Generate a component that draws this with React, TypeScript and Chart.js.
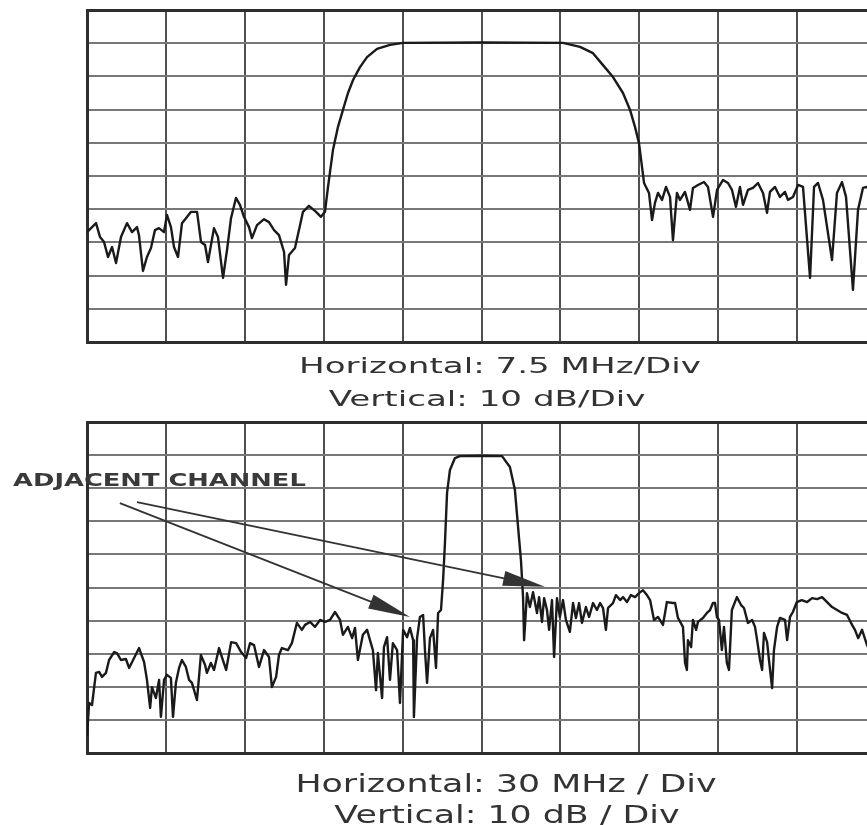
import React, { useEffect, useRef } from "react";
import { Chart, registerables } from "chart.js";

Chart.register(...registerables);

// ---------- Top panel: 7.5 MHz/div, 10 dB/div (span 0..75 MHz, 0..-100 dB) ----------
const topFreq = [
  0.0, 0.86, 1.24, 1.62, 2.0, 2.38, 2.76, 3.23, 3.8, 4.28, 4.75, 4.94, 5.32, 5.7, 6.08, 6.46, 6.84, 7.32, 7.6, 7.98,
  8.27, 8.65, 9.03, 9.41, 9.89, 10.46, 10.84, 11.22, 11.5, 12.07, 12.45, 12.93, 13.31, 13.69, 14.16, 14.54, 14.92,
  15.4, 15.68, 16.16, 16.83, 17.3, 17.78, 18.25, 18.73, 18.92, 19.2, 19.77, 20.25, 20.53, 21.1, 21.77, 22.24, 22.62,
  22.91, 23.38, 23.86, 24.33, 24.81, 25.29, 25.95, 26.62, 27.57, 28.8, 30.04, 37.5, 45.25, 46.86, 48.1, 49.05, 50.0,
  50.95, 51.62, 52.09, 52.47, 52.76, 52.95, 53.42, 53.71, 53.99, 54.28, 54.66, 55.04, 55.42, 55.7, 56.08, 56.37,
  56.84, 57.32, 57.6, 58.08, 58.65, 59.03, 59.51, 59.89, 60.46, 60.93, 61.31, 61.69, 62.07, 62.36, 62.83, 63.31,
  63.78, 64.26, 64.64, 64.92, 65.4, 65.87, 66.35, 66.63, 67.11, 67.59, 68.06, 68.73, 69.11, 69.49, 69.96, 70.82,
  71.29, 71.77, 72.15, 72.81, 73.29, 73.76, 74.14, 75.0,
];
const topLevel = [
  -66.9, -64.2, -68.4, -69.9, -74.4, -71.4, -76.2, -68.4, -64.2, -66.9, -65.4, -67.8, -78.6, -74.4, -71.7, -66.3,
  -65.7, -66.9, -61.7, -65.4, -71.4, -74.4, -64.2, -62.7, -60.8, -60.8, -69.9, -70.8, -75.9, -65.7, -68.4, -80.7,
  -72.3, -62.7, -56.6, -58.7, -62.3, -65.4, -68.7, -64.8, -63.0, -63.9, -66.3, -67.8, -72.9, -82.8, -73.8, -71.7,
  -64.8, -60.8, -59.0, -60.8, -62.3, -60.8, -53.3, -42.2, -35.2, -30.1, -25.0, -21.1, -17.2, -14.2, -11.7, -10.5,
  -9.9, -9.8, -9.9, -11.1, -13.0, -16.6, -20.2, -25.0, -30.1, -35.2, -40.1, -47.3, -52.1, -55.1, -63.3, -58.1,
  -55.1, -57.2, -53.3, -56.3, -69.3, -55.1, -57.2, -54.8, -60.2, -53.6, -52.7, -51.8, -53.3, -62.3, -54.2, -51.2,
  -52.1, -54.2, -59.3, -53.3, -58.7, -54.2, -53.6, -52.1, -55.1, -61.1, -54.8, -53.3, -56.3, -54.8, -57.2, -56.3,
  -52.7, -53.3, -80.7, -53.3, -52.1, -57.2, -75.3, -55.1, -51.8, -56.3, -84.3, -60.2, -53.6, -53.3, -57.0,
];

// ---------- Bottom panel: 30 MHz/div, 10 dB/div (span 0..300 MHz, 0..-100 dB) ----------
const botFreq = [
  0.0, 0.8, 1.9, 3.4, 4.6, 5.7, 7.2, 8.4, 10.3, 11.4, 12.9, 14.8, 16.0, 17.9, 19.8, 21.7, 22.8, 24.0, 24.7, 26.2,
  27.4, 28.1, 29.3, 30.4, 31.9, 32.7, 33.8, 35.0, 36.1, 37.6, 38.8, 39.9, 41.8, 42.6, 43.3, 44.9, 45.6, 47.1, 48.3,
  50.2, 51.3, 52.9, 54.8, 56.7, 58.6, 60.5, 62.0, 63.5, 65.4, 67.3, 69.2, 70.3, 71.9, 73.0, 74.1, 76.4, 77.9, 79.8,
  81.7, 82.9, 84.8, 86.7, 88.6, 90.5, 92.4, 94.3, 96.2, 97.3, 99.2, 100.8, 101.9, 103.0, 104.9, 106.5, 107.6, 108.7,
  109.9, 110.6, 112.2, 112.9, 114.1, 115.2, 116.3, 117.9, 119.0, 120.2, 121.7, 122.8, 124.0, 124.3, 125.5, 126.6,
  127.8, 128.5, 129.3, 130.4, 131.6, 132.7, 133.5, 134.6, 135.4, 136.1, 136.9, 138.0, 139.9, 141.8, 150.0, 157.8,
  160.8, 162.7, 163.9, 165.0, 165.8, 166.2, 167.3, 168.4, 169.6, 171.1, 171.9, 173.0, 173.8, 174.9, 175.7, 176.8,
  177.6, 178.7, 179.8, 181.0, 182.1, 183.6, 184.8, 185.9, 187.1, 188.2, 189.7, 190.9, 192.4, 193.9, 195.1, 196.2,
  197.3, 198.1, 200.0, 201.1, 202.7, 203.8, 205.3, 206.8, 208.4, 209.9, 211.4, 212.9, 214.1, 215.6, 217.1, 219.0,
  220.5, 222.8, 223.6, 224.7, 226.6, 227.4, 228.1, 228.5, 229.7, 230.4, 231.6, 232.3, 234.2, 235.7, 236.9, 238.0,
  238.8, 239.5, 240.3, 241.4, 242.2, 243.3, 244.1, 245.2, 247.1, 248.7, 249.8, 251.3, 252.9, 254.0, 254.8, 255.9,
  256.7, 257.4, 258.6, 259.3, 260.5, 261.2, 262.4, 263.5, 265.4, 266.2, 267.3, 268.4, 269.9, 271.8, 273.8, 275.7,
  277.6, 279.5, 281.4, 283.3, 285.2, 287.1, 289.0, 290.9, 292.0, 293.2, 294.7, 296.6, 300.0,
];
const botLevel = [
  -95.0, -84.9, -85.5, -75.8, -75.5, -77.0, -75.8, -71.9, -69.5, -69.8, -71.9, -71.6, -74.3, -71.3, -68.3, -72.5,
  -77.9, -86.4, -80.1, -83.4, -77.9, -89.1, -77.9, -76.4, -77.3, -89.1, -78.8, -74.3, -71.9, -74.0, -77.9, -78.8,
  -84.0, -77.0, -70.4, -73.4, -75.8, -72.8, -74.9, -68.3, -71.0, -74.9, -66.5, -66.8, -69.5, -71.3, -66.8, -67.4,
  -74.0, -68.9, -71.0, -80.1, -77.0, -70.4, -68.3, -68.9, -66.8, -60.7, -62.8, -61.3, -60.4, -61.9, -59.8, -60.4,
  -59.8, -57.4, -59.8, -64.3, -61.9, -65.3, -62.2, -71.9, -64.3, -62.8, -65.9, -68.9, -81.0, -69.8, -83.4, -68.0,
  -65.0, -77.9, -66.8, -68.9, -84.9, -62.8, -65.0, -62.2, -65.9, -89.1, -65.3, -58.9, -58.3, -68.9, -78.8, -65.3,
  -62.8, -74.3, -57.7, -56.8, -47.7, -36.6, -21.4, -14.5, -10.9, -10.3, -10.2, -10.3, -13.6, -20.5, -31.7, -41.7,
  -52.9, -65.9, -51.7, -55.9, -51.4, -57.7, -52.9, -60.4, -53.2, -56.8, -62.8, -53.8, -71.0, -53.2, -58.9, -53.8,
  -59.8, -63.4, -54.7, -59.2, -54.7, -60.7, -55.9, -58.9, -54.7, -56.8, -54.7, -56.2, -62.8, -56.2, -54.7, -52.3,
  -53.8, -52.9, -54.4, -52.3, -52.9, -51.7, -50.8, -52.3, -53.8, -59.8, -58.9, -61.3, -54.4, -54.7, -54.7, -59.2,
  -61.9, -72.8, -74.9, -65.9, -68.0, -59.8, -62.8, -60.4, -59.2, -57.7, -56.8, -54.7, -54.7, -58.9, -59.8, -68.9,
  -61.9, -72.8, -74.9, -56.8, -52.9, -55.3, -56.2, -60.7, -59.8, -61.9, -65.9, -71.9, -74.9, -63.7, -66.5, -71.9,
  -80.4, -68.9, -61.9, -59.2, -59.8, -65.9, -58.9, -57.4, -54.4, -53.8, -54.4, -53.2, -53.5, -52.9, -54.4, -55.9,
  -56.8, -57.7, -58.3, -61.3, -62.8, -65.3, -62.8, -67.4, -73.4,
];

// ---------- Texts ----------
const topCaptions = ["Horizontal: 7.5 MHz/Div", "Vertical: 10 dB/Div"];
const botCaptions = ["Horizontal: 30 MHz / Div", "Vertical: 10 dB / Div"];
const annotationLabel = "ADJACENT CHANNEL";

// annotation geometry in data units of the bottom panel (MHz, dB)
const labelAt = [-28.1, -17.8];
const arrowFromFreq = [12.5, 19.0];
const arrowFromLevel = [-24.5, -24.2];
const arrowToFreq = [122.8, 174.1];
const arrowToLevel = [-58.9, -49.8];

const FRAME = "#2e2e2e";
const VGRID = "#4f4f4f";
const HGRID = "#777777";
const TRACE = "#1a1a1a";

function stretchedText(
  ctx: CanvasRenderingContext2D,
  text: string,
  x: number,
  y: number,
  font: string,
  sx: number,
  align: CanvasTextAlign,
  baseline: CanvasTextBaseline,
  color: string
) {
  ctx.save();
  ctx.font = font;
  ctx.fillStyle = color;
  ctx.textAlign = align;
  ctx.textBaseline = baseline;
  ctx.translate(x, y);
  ctx.scale(sx, 1);
  ctx.fillText(text, 0, 0);
  ctx.restore();
}

const captionPlugin = {
  id: "captions",
  afterDraw(chart: any, _args: any, opts: any) {
    if (!opts || !opts.lines) return;
    const ctx = chart.ctx as CanvasRenderingContext2D;
    opts.lines.forEach((t: string, i: number) => {
      stretchedText(
        ctx,
        t,
        opts.centers[i],
        opts.baselines[i],
        `${opts.size}px "DejaVu Sans"`,
        opts.stretch,
        "center",
        "alphabetic",
        "#333333"
      );
    });
  },
};

const arrowPlugin = {
  id: "arrows",
  afterDatasetsDraw(chart: any, _args: any, opts: any) {
    if (!opts || !opts.enabled) return;
    const ctx = chart.ctx as CanvasRenderingContext2D;
    const xs = chart.scales.x;
    const ys = chart.scales.y;
    ctx.save();
    ctx.strokeStyle = "#333333";
    ctx.fillStyle = "#333333";
    ctx.lineWidth = 1.8;
    for (let i = 0; i < arrowFromFreq.length; i++) {
      const x0 = xs.getPixelForValue(arrowFromFreq[i]);
      const y0 = ys.getPixelForValue(arrowFromLevel[i]);
      const x1 = xs.getPixelForValue(arrowToFreq[i]);
      const y1 = ys.getPixelForValue(arrowToLevel[i]);
      const a = Math.atan2(y1 - y0, x1 - x0);
      const L = 42;
      const w = 7.5;
      const bx = x1 - L * Math.cos(a);
      const by = y1 - L * Math.sin(a);
      ctx.beginPath();
      ctx.moveTo(x0, y0);
      ctx.lineTo(bx + 4 * Math.cos(a), by + 4 * Math.sin(a));
      ctx.stroke();
      ctx.beginPath();
      ctx.moveTo(x1, y1);
      ctx.lineTo(bx + w * Math.sin(a), by - w * Math.cos(a));
      ctx.lineTo(bx - w * Math.sin(a), by + w * Math.cos(a));
      ctx.closePath();
      ctx.fill();
    }
    ctx.restore();
    stretchedText(
      ctx,
      annotationLabel,
      xs.getPixelForValue(labelAt[0]),
      ys.getPixelForValue(labelAt[1]),
      'bold 18px "DejaVu Sans"',
      1.43,
      "left",
      "middle",
      "#3a3a3a"
    );
  },
};

function makeConfig(
  freq: number[],
  level: number[],
  xMax: number,
  xStep: number,
  padding: any,
  captions: any,
  arrows: boolean
): any {
  const edge = (v: number, a: number, b: number) => Math.abs(v - a) < 1e-6 || Math.abs(v - b) < 1e-6;
  return {
    type: "line",
    data: {
      datasets: [
        {
          data: freq.map((f, i) => ({ x: f, y: level[i] })),
          borderColor: TRACE,
          borderWidth: 2.4,
          pointRadius: 0,
          tension: 0,
          borderJoinStyle: "round",
          fill: false,
        },
      ],
    },
    options: {
      responsive: false,
      animation: false,
      events: [],
      layout: { padding },
      plugins: {
        legend: { display: false },
        tooltip: { enabled: false },
        title: { display: false },
        captions,
        arrows: { enabled: arrows },
      },
      scales: {
        x: {
          type: "linear",
          min: 0,
          max: xMax,
          ticks: { display: false, stepSize: xStep },
          grid: {
            drawTicks: false,
            color: (c: any) => (c.tick && edge(c.tick.value, 0, -1) ? FRAME : VGRID),
            lineWidth: (c: any) => (c.tick && edge(c.tick.value, 0, -1) ? 3 : 2),
          },
          border: { display: true, color: FRAME, width: 3 },
        },
        y: {
          type: "linear",
          min: -100,
          max: 0,
          ticks: { display: false, stepSize: 10 },
          grid: {
            drawTicks: false,
            color: (c: any) => (c.tick && edge(c.tick.value, 0, -100) ? FRAME : HGRID),
            lineWidth: (c: any) => (c.tick && edge(c.tick.value, 0, -100) ? 3 : 2),
          },
          border: { display: true, color: FRAME, width: 3 },
        },
      },
    },
    plugins: [captionPlugin, arrowPlugin],
  };
}

export default function App() {
  const topRef = useRef<HTMLCanvasElement | null>(null);
  const botRef = useRef<HTMLCanvasElement | null>(null);

  useEffect(() => {
    const charts: Chart[] = [];
    if (topRef.current) {
      charts.push(
        new Chart(
          topRef.current,
          makeConfig(
            topFreq,
            topLevel,
            75,
            7.5,
            { left: 87, top: 10, right: 14, bottom: 68 },
            { lines: topCaptions, centers: [500, 487], baselines: [373, 406], size: 22, stretch: 1.55 },
            false
          )
        )
      );
    }
    if (botRef.current) {
      charts.push(
        new Chart(
          botRef.current,
          makeConfig(
            botFreq,
            botLevel,
            300,
            30,
            { left: 87, top: 12, right: 14, bottom: 72 },
            { lines: botCaptions, centers: [506, 507], baselines: [382, 413], size: 24, stretch: 1.45 },
            true
          )
        )
      );
    }
    return () => charts.forEach((c) => c.destroy());
  }, []);

  return (
    <div
      style={{
        position: "absolute",
        left: 0,
        top: 0,
        width: 867,
        height: 825,
        overflow: "hidden",
        background: "#ffffff",
      }}
    >
      <canvas
        ref={topRef}
        width={890}
        height={410}
        style={{ position: "absolute", left: 0, top: 0, width: 890, height: 410 }}
      />
      <canvas
        ref={botRef}
        width={890}
        height={415}
        style={{ position: "absolute", left: 0, top: 410, width: 890, height: 415 }}
      />
    </div>
  );
}
